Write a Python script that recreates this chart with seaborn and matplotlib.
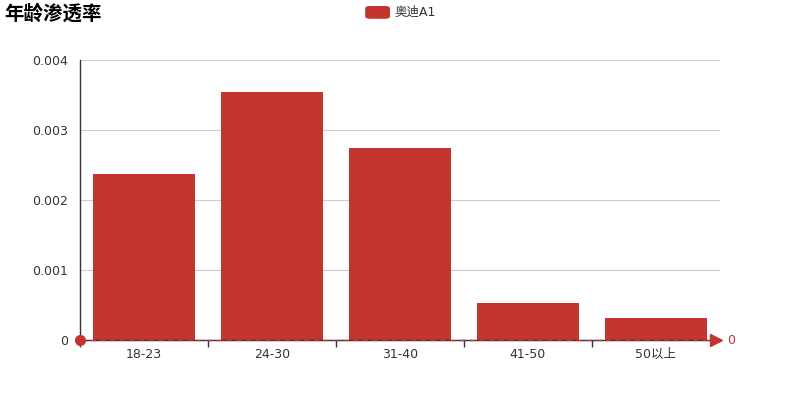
import numpy as np
import pandas as pd
import matplotlib.pyplot as plt
import seaborn as sns
from matplotlib.patches import FancyBboxPatch

# ============================
#  DATA
# ============================
age_groups = ["18-23", "24-30", "31-40", "41-50", "50以上"]
penetration = [0.002376, 0.003547, 0.002738, 0.000533, 0.000319]
series_name = "奥迪A1"
chart_title = "年龄渗透率"
y_ticks = [0, 0.001, 0.002, 0.003, 0.004]
mark_value = 0

BAR_COLOR = "#c23531"

df = pd.DataFrame({"age": age_groups, "rate": penetration})

# ============================
#  STYLE
# ============================
sns.set_style("white")
plt.rcParams["font.family"] = ["DejaVu Sans", "Noto Sans CJK SC"]

fig = plt.figure(figsize=(8, 4), dpi=100)
ax = fig.add_axes([0.1, 0.15, 0.8, 0.7])

sns.barplot(data=df, x="age", y="rate", color=BAR_COLOR, saturation=1,
            width=0.8, linewidth=0, ax=ax, zorder=2)

# ----------------------------------------------------
# axes / grid
# ----------------------------------------------------
ax.set_xlim(-0.5, len(age_groups) - 0.5)
ax.set_ylim(y_ticks[0], y_ticks[-1])
ax.set_yticks(y_ticks)
ax.set_yticklabels([f"{v:g}" for v in y_ticks])
ax.yaxis.grid(True, color="#cccccc", linewidth=0.8, zorder=0)
ax.set_axisbelow(True)

ax.set_xlabel("")
ax.set_ylabel("")

for side in ["top", "right"]:
    ax.spines[side].set_visible(False)
for side in ["left", "bottom"]:
    ax.spines[side].set_color("#333333")
    ax.spines[side].set_linewidth(1)

# category boundary ticks
ax.set_xticks(np.arange(-0.5, len(age_groups) - 1, 1), minor=True)
ax.tick_params(axis="x", which="major", length=0, pad=6, labelsize=9, labelcolor="#333333")
ax.tick_params(axis="x", which="minor", length=5, width=1, color="#333333", direction="out")
ax.tick_params(axis="y", length=5, width=1, color="#333333", direction="out",
               labelsize=9, labelcolor="#333333")
ax.tick_params(axis="x", bottom=True, which="both")

# ----------------------------------------------------
# mark line at 0
# ----------------------------------------------------
ax.axhline(mark_value, color=BAR_COLOR, linestyle=(0, (4, 3)), linewidth=1, zorder=3, clip_on=False)
ax.plot([-0.5], [mark_value], marker="o", markersize=7, color=BAR_COLOR,
        clip_on=False, zorder=4)
ax.plot([len(age_groups) - 0.5 - 0.03], [mark_value], marker=">", markersize=8,
        color=BAR_COLOR, clip_on=False, zorder=4)
ax.annotate(f"{mark_value}", xy=(len(age_groups) - 0.5, mark_value),
            xytext=(5, 0), textcoords="offset points", va="center", ha="left",
            color=BAR_COLOR, fontsize=9)

# ----------------------------------------------------
# title + legend
# ----------------------------------------------------
fig.text(0.006, 0.965, chart_title, fontsize=14, fontweight="bold",
         family=["Noto Sans CJK SC", "DejaVu Sans"], va="center", ha="left", color="#000000")

fig.patches.append(FancyBboxPatch((0.4565, 0.953), 0.031, 0.032,
                                  boxstyle="round,pad=0,rounding_size=0.006",
                                  transform=fig.transFigure, facecolor=BAR_COLOR,
                                  edgecolor="none", figure=fig))
fig.text(0.493, 0.969, series_name, fontsize=9, va="center", ha="left", color="#333333",
         family=["DejaVu Sans", "Noto Sans CJK SC"])

fig.savefig("out.png", dpi=100)
